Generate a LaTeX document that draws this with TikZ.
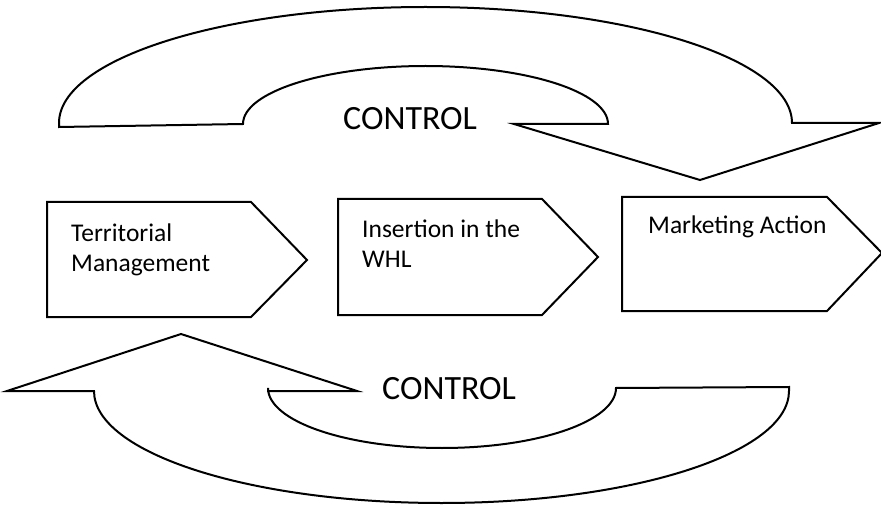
\documentclass[tikz,border=0pt]{standalone}
\usepackage{fontspec}
\setmainfont{Carlito}
\begin{document}
\begin{tikzpicture}[x=1pt,y=-1pt,
  shapeline/.style={draw=black, line width=2pt, line join=miter},
  boxtext/.style={anchor=base west, inner sep=0pt, font=\fontsize{25.5}{29}\selectfont},
  ctrltext/.style={anchor=base west, inner sep=0pt, font=\fontsize{34}{40}\selectfont}]
\useasboundingbox (0,0) rectangle (881,505);

% upper curved arrow
\draw[shapeline] (59,127) -- (243,124)
  arc[start angle=180, end angle=0, x radius=182.5pt, y radius=58pt]
  -- (514,124) -- (700,180) -- (879,123) -- (792,123)
  arc[start angle=0, end angle=180, x radius=366.5pt, y radius=116pt]
  -- cycle;

% lower curved arrow
\draw[shapeline] (7,391) -- (94,391)
  arc[start angle=180, end angle=360, x radius=347.5pt, y radius=112pt]
  -- (789,387) -- (616,388)
  arc[start angle=0, end angle=-180, x radius=174pt, y radius=60pt]
  -- (268,391) -- (357,391) -- (181,334) -- cycle;

% process boxes
\draw[shapeline] (47,202) -- (251,202) -- (307,260) -- (251,317) -- (47,317) -- cycle;
\draw[shapeline] (338,199) -- (542,199) -- (598,257) -- (542,315) -- (338,315) -- cycle;
\draw[shapeline] (622,197) -- (827,197) -- (882,253) -- (827,311) -- (622,311) -- cycle;

% texts
\node[boxtext] (t1) at (71,242) {\begin{tabular}[t]{@{}l@{}}Territorial\\Management\end{tabular}};
\node[boxtext] (t2) at (362,238) {\begin{tabular}[t]{@{}l@{}}Insertion in the\\WHL\end{tabular}};
\node[boxtext] (t3) at (648,234) {Marketing Action};
\node[ctrltext] (c1) at (343,130) {CONTROL};
\node[ctrltext] (c2) at (382,399) {CONTROL};
\end{tikzpicture}
\end{document}
